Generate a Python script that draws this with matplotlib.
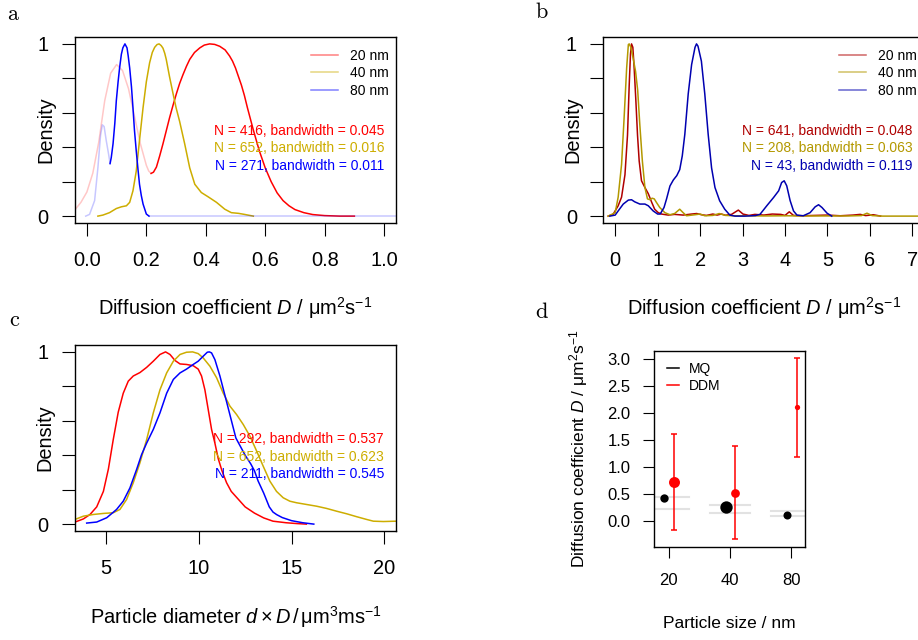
import matplotlib
matplotlib.use('Agg')
import matplotlib.pyplot as plt
import numpy as np

plt.rcParams['font.family'] = ['Liberation Sans', 'DejaVu Sans']
plt.rcParams['mathtext.fontset'] = 'custom'
plt.rcParams['mathtext.rm'] = 'Liberation Sans'
plt.rcParams['mathtext.it'] = 'Liberation Sans:italic'
plt.rcParams['mathtext.bf'] = 'Liberation Sans:bold'
plt.rcParams['mathtext.fallback'] = 'cm'

# ---------------- data ----------------
# panel a : MQ densities (scaled to max 1)
a20_x = [-0.041, -0.02, 0.0, 0.02, 0.04, 0.06, 0.08, 0.10, 0.12, 0.14, 0.16, 0.18, 0.20, 0.208,
         0.216, 0.224, 0.234, 0.245, 0.256, 0.267, 0.278, 0.29, 0.301, 0.312, 0.323, 0.335,
         0.346, 0.362, 0.38, 0.395, 0.413, 0.43, 0.447, 0.465, 0.48, 0.49, 0.50, 0.51, 0.52,
         0.53, 0.54, 0.55, 0.56, 0.57, 0.58, 0.59, 0.60, 0.61, 0.62, 0.64, 0.66, 0.68, 0.70,
         0.73, 0.76, 0.80, 0.85, 0.90]
a20_y = [0.035, 0.08, 0.14, 0.25, 0.43, 0.67, 0.83, 0.88, 0.845, 0.74, 0.58, 0.42, 0.295, 0.262,
         0.248, 0.255, 0.285, 0.35, 0.42, 0.495, 0.57, 0.645, 0.71, 0.77, 0.82, 0.87,
         0.91, 0.95, 0.977, 0.993, 1.0, 0.997, 0.986, 0.965, 0.93, 0.90, 0.86, 0.81, 0.76,
         0.70, 0.63, 0.565, 0.50, 0.44, 0.38, 0.33, 0.28, 0.24, 0.20, 0.135, 0.09, 0.06, 0.038,
         0.02, 0.009, 0.003, 0.0, 0.0]
a20_cut = 0.216

a40_x = [0.037, 0.054, 0.076, 0.099, 0.116, 0.133, 0.144, 0.155, 0.166, 0.177, 0.189, 0.2, 0.211,
         0.22, 0.228, 0.236, 0.243, 0.25, 0.256, 0.262, 0.267, 0.278, 0.29, 0.30, 0.312, 0.329,
         0.346, 0.363, 0.385, 0.408, 0.436, 0.464, 0.486, 0.51, 0.53, 0.56]
a40_y = [0.0, 0.006, 0.02, 0.044, 0.054, 0.06, 0.08, 0.147, 0.26, 0.44, 0.63, 0.78, 0.89,
         0.95, 0.98, 0.996, 1.0, 0.99, 0.975, 0.945, 0.91, 0.81, 0.71, 0.63, 0.55, 0.42,
         0.28, 0.185, 0.137, 0.112, 0.08, 0.04, 0.02, 0.016, 0.01, 0.0]

a80_x = [-0.004, 0.009, 0.026, 0.037, 0.046, 0.052, 0.058, 0.065, 0.073, 0.078,
         0.082, 0.088, 0.094, 0.099, 0.105, 0.11, 0.116, 0.121, 0.128, 0.135, 0.139, 0.144,
         0.15, 0.155, 0.16, 0.166, 0.172, 0.177, 0.183, 0.189, 0.2, 0.209, 1.04]
a80_y = [0.0, 0.01, 0.09, 0.28, 0.47, 0.53, 0.52, 0.44, 0.36, 0.305,
         0.34, 0.42, 0.54, 0.67, 0.78, 0.86, 0.94, 0.977, 1.0, 0.977, 0.93, 0.86,
         0.75, 0.63, 0.50, 0.38, 0.27, 0.185, 0.12, 0.07, 0.012, 0.0, 0.0]
a80_lo, a80_hi = 0.078, 0.209

a_sizes = ['20 nm', '40 nm', '80 nm']
a_N = [416, 652, 271]
a_bw = ['0.045', '0.016', '0.011']

# panel b : DDM densities
b20_x = [-0.165, -0.05, 0.07, 0.15, 0.23, 0.29, 0.33, 0.36, 0.385, 0.416, 0.447, 0.487, 0.526,
         0.565, 0.62, 0.70, 0.78, 0.86, 0.93, 1.01, 1.09, 1.25, 1.4, 1.6, 1.8, 1.92, 2.03, 2.15,
         2.3, 2.4, 2.5, 2.6, 2.74, 2.9, 3.01, 3.15, 3.29, 3.5, 3.7, 3.9, 4.0, 4.1, 4.2, 4.4,
         4.7, 5.0, 5.3, 5.6, 5.77, 5.9, 6.08, 6.25]
b20_y = [0.0, 0.01, 0.06, 0.11, 0.24, 0.47, 0.76, 0.94, 1.0, 0.98, 0.86, 0.67, 0.47,
         0.32, 0.205, 0.166, 0.13, 0.08, 0.04, 0.021, 0.012, 0.006, 0.01, 0.006, 0.012, 0.015,
         0.008, 0.004, 0.012, 0.006, 0.012, 0.005, 0.01, 0.035, 0.012, 0.004, 0.01, 0.006,
         0.012, 0.01, 0.004, 0.025, 0.004, 0.002, 0.004, 0.006, 0.002, 0.006, 0.01, 0.003,
         0.008, 0.0]

b40_x = [-0.165, 0.0, 0.07, 0.15, 0.21, 0.27, 0.31, 0.33, 0.37, 0.42, 0.48, 0.53, 0.58, 0.64,
         0.70, 0.76, 0.82, 0.87, 0.92, 0.97, 1.05, 1.17, 1.29, 1.4, 1.52, 1.6, 1.68, 1.88, 2.0,
         2.11, 2.3, 2.45, 2.6, 2.8, 3.0, 3.5, 4.0, 4.5, 5.0, 5.5, 5.8, 5.93, 6.05, 6.3, 7.3]
b40_y = [0.0, 0.02, 0.11, 0.30, 0.57, 0.86, 0.996, 1.0, 0.98, 0.92, 0.84, 0.73, 0.53, 0.32,
         0.166, 0.10, 0.095, 0.104, 0.10, 0.08, 0.05, 0.02, 0.008, 0.015, 0.04, 0.02, 0.002,
         0.008, 0.012, 0.002, 0.004, 0.015, 0.004, 0.002, 0.002, 0.001, 0.002, 0.001, 0.001,
         0.001, 0.003, 0.017, 0.003, 0.0, 0.0]

b80_x = [-0.125, 0.0, 0.07, 0.19, 0.31, 0.385, 0.46, 0.58, 0.70, 0.78, 0.895, 1.0, 1.06, 1.15,
         1.21, 1.29, 1.37, 1.45, 1.52, 1.58, 1.64, 1.72, 1.80, 1.88, 1.915, 1.95, 2.03, 2.11,
         2.19, 2.27, 2.35, 2.46, 2.58, 2.7, 2.82, 3.05, 3.3, 3.41, 3.57, 3.73, 3.85, 3.92, 3.98,
         4.04, 4.12, 4.2, 4.28, 4.43, 4.59, 4.71, 4.79, 4.87, 4.99, 5.1]
b80_y = [0.0, 0.006, 0.03, 0.07, 0.093, 0.095, 0.083, 0.07, 0.07, 0.06, 0.03, 0.012, 0.012, 0.05,
         0.10, 0.175, 0.21, 0.235, 0.27, 0.35, 0.475, 0.71, 0.88, 0.98, 1.0, 0.987, 0.90, 0.71,
         0.475, 0.28, 0.166, 0.089, 0.04, 0.006, 0.0, 0.0, 0.003, 0.01, 0.06, 0.108, 0.147,
         0.195, 0.205, 0.176, 0.09, 0.03, 0.006, 0.002, 0.02, 0.054, 0.066, 0.05, 0.017, 0.0]

b_N = [641, 208, 43]
b_bw = ['0.048', '0.063', '0.119']

# panel c : particle diameter d x D
c20_x = [3.33, 3.78, 4.14, 4.5, 4.86, 5.13, 5.39, 5.66, 5.93, 6.2, 6.47, 6.83, 7.19, 7.55, 7.91,
         8.21, 8.45, 8.72, 8.99, 9.34, 9.70, 9.97, 10.15, 10.33, 10.51, 10.69, 10.87, 11.05,
         11.25, 11.5, 11.75, 12.0, 12.5, 13.0, 13.5, 14.0, 14.7, 15.3, 15.8]
c20_y = [0.012, 0.03, 0.056, 0.10, 0.19, 0.32, 0.49, 0.65, 0.76, 0.83, 0.86, 0.88, 0.91, 0.946,
         0.985, 1.0, 0.985, 0.95, 0.93, 0.927, 0.92, 0.90, 0.86, 0.78, 0.665, 0.55, 0.47, 0.38,
         0.31, 0.24, 0.19, 0.16, 0.10, 0.064, 0.036, 0.017, 0.008, 0.003, 0.0]

c40_x = [3.33, 3.78, 4.32, 4.86, 5.39, 5.75, 6.11, 6.47, 6.83, 7.19, 7.55, 7.91, 8.27, 8.63, 8.99,
         9.34, 9.67, 9.97, 10.24, 10.6, 10.96, 11.32, 11.68, 12.04, 12.4, 12.76, 13.12, 13.47,
         13.83, 14.19, 14.55, 14.91, 15.27, 15.81, 16.35, 16.89, 17.43, 17.97, 18.51, 19.05,
         19.41, 19.95, 20.63]
c40_y = [0.027, 0.046, 0.056, 0.062, 0.066, 0.085, 0.143, 0.24, 0.356, 0.49, 0.646, 0.78, 0.878,
         0.946, 0.985, 0.998, 1.0, 0.99, 0.965, 0.917, 0.85, 0.76, 0.685, 0.636, 0.578, 0.51,
         0.424, 0.337, 0.25, 0.19, 0.153, 0.133, 0.124, 0.114, 0.104, 0.091, 0.075, 0.06, 0.043,
         0.027, 0.017, 0.015, 0.017]

c80_x = [3.96, 4.5, 5.04, 5.57, 5.93, 6.29, 6.65, 6.92, 7.19, 7.55, 7.91, 8.27, 8.63, 8.99, 9.34,
         9.7, 9.97, 10.24, 10.46, 10.57, 10.69, 10.87, 11.14, 11.5, 12.0, 12.5, 12.8, 13.0, 13.2,
         13.5, 13.8, 14.0, 14.2, 14.5, 15.0, 15.6, 16.2]
c80_y = [0.006, 0.012, 0.037, 0.085, 0.133, 0.21, 0.317, 0.404, 0.47, 0.55, 0.646, 0.76, 0.84,
         0.878, 0.9, 0.927, 0.946, 0.975, 0.998, 1.0, 0.994, 0.955, 0.86, 0.71, 0.50, 0.40, 0.35,
         0.31, 0.25, 0.18, 0.10, 0.07, 0.055, 0.038, 0.02, 0.008, 0.0]

c_N = [292, 652, 211]
c_bw = ['0.537', '0.623', '0.545']

# panel d : mean diffusion coefficients
d_sizes = ['20', '40', '80']
mq_D = [0.42, 0.26, 0.12]
ddm_D = [0.73, 0.52, 2.11]
ddm_lo = [-0.17, -0.34, 1.19]
ddm_hi = [1.62, 1.39, 3.02]
ref_hi = [0.44, 0.29, 0.18]
ref_lo = [0.23, 0.14, 0.09]

# ---------------- style ----------------
W, H = 918, 640
fig = plt.figure(figsize=(W / 100, H / 100), dpi=100)

def fx(px):
    return px / W

def fy(py):
    return 1 - py / H

def box(l, t, r, b):
    return [l / W, 1 - b / H, (r - l) / W, (b - t) / H]

RED, GOLD, BLUE = '#FF0000', '#CDAD00', '#0000FF'
DRED, DGOLD, DBLUE = '#B00000', '#B39800', '#0000B0'
LW = 1.1
FS = 14.4
PALE = 0.22

def style_density(ax, xlim, xticks, xticklabels):
    ax.set_xlim(*xlim)
    ax.set_ylim(-0.04, 1.04)
    ax.set_xticks(xticks)
    ax.set_xticklabels(xticklabels)
    ax.set_yticks([0, 0.2, 0.4, 0.6, 0.8, 1.0])
    ax.set_yticklabels(['0', '', '', '', '', '1'])
    ax.tick_params(direction='out', length=9.6, width=0.8, labelsize=FS, color='black')
    ax.tick_params(axis='y', pad=9.4)
    ax.tick_params(axis='x', pad=10.5)
    for s in ax.spines.values():
        s.set_linewidth(1.0)

def legend_and_N(x_line0, x_line1, x_text, x_nright, rows_leg, rows_n, colors, Ns, bws, leg_alpha):
    for i in range(3):
        fig.add_artist(plt.Line2D([fx(x_line0), fx(x_line1)], [fy(rows_leg[i] - 5), fy(rows_leg[i] - 5)],
                                  color=colors[i], lw=LW, alpha=leg_alpha, transform=fig.transFigure))
        fig.text(fx(x_text), fy(rows_leg[i]), a_sizes[i], fontsize=10, ha='left', va='baseline')
    for i in range(3):
        fig.text(fx(x_nright), fy(rows_n[i]), 'N = %d, bandwidth = %s' % (Ns[i], bws[i]),
                 fontsize=10, ha='right', va='baseline', color=colors[i])

xlab_D = r'Diffusion coefficient $D$ / $\mathrm{\mu m^2s^{-1}}$'

# ---------------- panel a ----------------
axa = fig.add_axes(box(75, 37, 396, 223))
x = np.array(a20_x); y = np.array(a20_y)
axa.plot(x[x <= a20_cut], y[x <= a20_cut], color=RED, lw=LW, alpha=PALE)
axa.plot(x[x >= a20_cut], y[x >= a20_cut], color=RED, lw=LW)
axa.plot(a40_x, a40_y, color=GOLD, lw=LW)
x = np.array(a80_x); y = np.array(a80_y)
axa.plot(x[x <= a80_lo], y[x <= a80_lo], color=BLUE, lw=LW, alpha=PALE)
m = (x >= a80_lo) & (x <= a80_hi)
axa.plot(x[m], y[m], color=BLUE, lw=LW)
axa.plot(x[x >= a80_hi], y[x >= a80_hi], color=BLUE, lw=LW, alpha=PALE)
style_density(axa, (-0.04, 1.04), [0, 0.2, 0.4, 0.6, 0.8, 1.0],
              ['0.0', '0.2', '0.4', '0.6', '0.8', '1.0'])
legend_and_N(311, 338, 350, 384, [60, 77.3, 94.6], [135, 152.3, 169.6],
             [RED, GOLD, BLUE], a_N, a_bw, 0.5)
fig.text(fx(235.5), fy(315), xlab_D, fontsize=FS, ha='center', va='baseline')
fig.text(fx(46), fy(130), 'Density', fontsize=FS, rotation=90, ha='center', va='center')

# ---------------- panel b ----------------
axb = fig.add_axes(box(603.3, 37, 924.3, 223))
axb.plot(b20_x, b20_y, color=DRED, lw=LW)
axb.plot(b40_x, b40_y, color=DGOLD, lw=LW)
axb.plot(b80_x, b80_y, color=DBLUE, lw=LW)
style_density(axb, (-0.28, 7.28), list(range(8)), [str(i) for i in range(8)])
legend_and_N(839, 866, 878, 912.3, [60, 77.3, 94.6], [135, 152.3, 169.6],
             [DRED, DGOLD, DBLUE], b_N, b_bw, 0.6)
fig.text(fx(763.8), fy(315), xlab_D, fontsize=FS, ha='center', va='baseline')
fig.text(fx(573), fy(130), 'Density', fontsize=FS, rotation=90, ha='center', va='center')

# ---------------- panel c ----------------
axc = fig.add_axes(box(75, 345, 396, 531))
axc.plot(c20_x, c20_y, color=RED, lw=LW)
axc.plot(c40_x, c40_y, color=GOLD, lw=LW)
axc.plot(c80_x, c80_y, color=BLUE, lw=LW)
style_density(axc, (3.33, 20.63), [5, 10, 15, 20], ['5', '10', '15', '20'])
for i, col in enumerate([RED, GOLD, BLUE]):
    fig.text(fx(384), fy(443.3 + 17.3 * i), 'N = %d, bandwidth = %s' % (c_N[i], c_bw[i]),
             fontsize=10, ha='right', va='baseline', color=col)
fig.text(fx(235.5), fy(623.3), r'Particle diameter $d\times D\,$/$\,\mathrm{\mu m^3ms^{-1}}$',
         fontsize=FS, ha='center', va='baseline')
fig.text(fx(45), fy(438), 'Density', fontsize=FS, rotation=90, ha='center', va='center')

# ---------------- panel d ----------------
axd = fig.add_axes(box(654.3, 350.7, 805.3, 547.3))
pos = np.arange(1, 4)
for i in range(3):
    axd.plot([pos[i] - 0.33, pos[i] + 0.33], [ref_hi[i]] * 2, color='#E2E2E2', lw=1.5, zorder=1)
    axd.plot([pos[i] - 0.33, pos[i] + 0.33], [ref_lo[i]] * 2, color='#E2E2E2', lw=1.5, zorder=1)
ddm = np.array(ddm_D)
axd.errorbar(pos + 0.09, ddm, yerr=[ddm - np.array(ddm_lo), np.array(ddm_hi) - ddm], fmt='none',
             ecolor='red', elinewidth=1.1, capsize=2.2, capthick=1.1, zorder=2)
mq_ms = [6.0, 8.9, 5.8]
ddm_ms = [7.9, 6.3, 3.8]
for i in range(3):
    axd.plot(pos[i] - 0.07, mq_D[i], 'o', color='black', ms=mq_ms[i], mew=0, zorder=3)
    axd.plot(pos[i] + 0.09, ddm_D[i], 'o', color='red', ms=ddm_ms[i], mew=0, zorder=3)
axd.set_xlim(0.765, 3.233)
axd.set_ylim(-0.487, 3.154)
axd.set_xticks(pos)
axd.set_xticklabels(d_sizes)
axd.set_yticks([0, 0.5, 1.0, 1.5, 2.0, 2.5, 3.0])
axd.set_yticklabels(['0.0', '0.5', '1.0', '1.5', '2.0', '2.5', '3.0'])
axd.tick_params(direction='out', length=7.8, width=0.8, labelsize=12)
axd.tick_params(axis='y', pad=9.4)
axd.tick_params(axis='x', pad=11)
for s in axd.spines.values():
    s.set_linewidth(1.0)
for i, (lab, col) in enumerate([('MQ', 'black'), ('DDM', 'red')]):
    yy = 368.3 + 16.7 * i
    fig.add_artist(plt.Line2D([fx(666.7), fx(679.3)], [fy(yy), fy(yy)], color=col, lw=1.1,
                              transform=fig.transFigure))
    fig.text(fx(689), fy(yy + 5), lab, fontsize=10, ha='left', va='baseline')
fig.text(fx(729.8), fy(628.3), 'Particle size / nm', fontsize=12.5, ha='center', va='baseline')
fig.text(fx(578.3), fy(449), xlab_D, fontsize=12.5, rotation=90, ha='center', va='center')

# ---------------- panel letters ----------------
for lab, px, py in [('a', 12.3, 19.5), ('b', 542, 18), ('c', 14, 326), ('d', 542, 318)]:
    fig.text(fx(px), fy(py), lab, fontsize=16, family='cmr10', ha='center', va='baseline')

fig.savefig('out.png', dpi=100)
